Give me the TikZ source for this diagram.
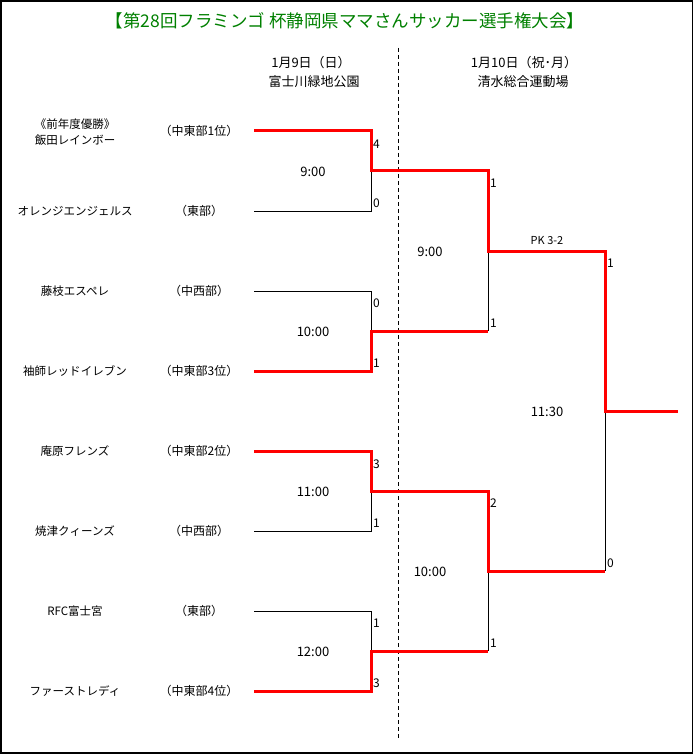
\documentclass[tikz,border=0pt]{standalone}
\usepackage{fontspec}
\setmainfont{Noto Sans CJK JP}
\definecolor{titlegreen}{RGB}{0,128,0}
\definecolor{winred}{RGB}{255,0,0}
\begin{document}
\begin{tikzpicture}[x=1pt,y=-1pt,
  team/.style={font=\fontsize{11.5}{16}\selectfont, align=center, inner sep=0},
  region/.style={font=\fontsize{12}{14}\selectfont, inner sep=0},
  hdr/.style={font=\fontsize{13}{15}\selectfont, inner sep=0},
  time/.style={font=\fontsize{13}{15}\selectfont, inner sep=0},
  score/.style={font=\fontsize{12}{14}\selectfont, inner sep=0, anchor=west},
  win/.style={draw=winred, line width=3pt, line join=miter},
  lose/.style={draw=black, line width=0.8pt},
  sep/.style={draw=black, line width=0.8pt, dash pattern=on 4pt off 3pt}]
\useasboundingbox (0,0) rectangle (694,754);
\draw[line width=1.5pt] (1,1) rectangle (692.5,753);

% title
\node[font=\fontsize{17.5}{20}\selectfont, text=titlegreen, inner sep=0] (title) at (345,21) {【第28回フラミンゴ 杯静岡県ママさんサッカー選手権大会】};

% headers
\node[hdr] (d1) at (311,63) {1月9日（日）};
\node[hdr] (v1) at (314,82) {富士川緑地公園};
\node[hdr] (d2) at (524,63) {1月10日（祝･月）};
\node[hdr] (v2) at (523,82) {清水総合運動場};

% separator
\coordinate (sepT) at (398,48);
\coordinate (sepB) at (398,740);
\draw[sep] (sepT) -- (sepB);

% teams
\node[team] (n1) at (75,132) {《前年度優勝》\\飯田レインボー};
\node[team] (n2) at (75,211) {オレンジエンジェルス};
\node[team] (n3) at (75,291) {藤枝エスペレ};
\node[team] (n4) at (75,371) {袖師レッドイレブン};
\node[team] (n5) at (75,451) {庵原フレンズ};
\node[team] (n6) at (75,531) {焼津クィーンズ};
\node[team] (n7) at (75,611) {RFC富士宮};
\node[team] (n8) at (75,691) {ファーストレディ};

\node[region] (r1) at (199,131) {（中東部1位）};
\node[region] (r2) at (199,211) {（東部）};
\node[region] (r3) at (199,291) {（中西部）};
\node[region] (r4) at (199,371) {（中東部3位）};
\node[region] (r5) at (199,451) {（中東部2位）};
\node[region] (r6) at (199,531) {（中西部）};
\node[region] (r7) at (199,611) {（東部）};
\node[region] (r8) at (199,691) {（中東部4位）};

% bracket coordinates
\foreach \i/\y in {1/131,2/211,3/291,4/371,5/451,6/531,7/611,8/691}{
  \coordinate (s\i) at (254,\y);
  \coordinate (e\i) at (371,\y);
}
\coordinate (j1) at (371,171);
\coordinate (j2) at (371,331);
\coordinate (j3) at (371,491);
\coordinate (j4) at (371,651);
\coordinate (k1) at (488,171);
\coordinate (k2) at (488,331);
\coordinate (k3) at (488,491);
\coordinate (k4) at (488,651);
\coordinate (m1) at (488,251);
\coordinate (m2) at (488,571);
\coordinate (f1) at (605,251);
\coordinate (f2) at (605,571);
\coordinate (fj) at (605,411);
\coordinate (champ) at (678,411);

% losing lines
\draw[lose] (s2) -- (e2) -- (j1);
\draw[lose] (s3) -- (e3) -- (j2);
\draw[lose] (s6) -- (e6) -- (j3);
\draw[lose] (s7) -- (e7) -- (j4);
\draw[lose] (m1) -- (k2);
\draw[lose] (m2) -- (k4);
\draw[lose] (fj) -- (f2);

% winning lines
\draw[win] (s1) -- (e1) -- (j1) -- (k1) -- (m1) -- (f1) -- (fj) -- (champ);
\draw[win] (s4) -- (e4) -- (j2) -- (k2);
\draw[win] (s5) -- (e5) -- (j3) -- (k3) -- (m2) -- (f2);
\draw[win] (s8) -- (e8) -- (j4) -- (k4);

% times
\node[time] (t1) at (313,172) {9:00};
\node[time] (t2) at (313,332) {10:00};
\node[time] (t3) at (313,492) {11:00};
\node[time] (t4) at (313,652) {12:00};
\node[time] (t5) at (430,252) {9:00};
\node[time] (t6) at (430,572) {10:00};
\node[time] (t7) at (547,412) {11:30};
\node[font=\fontsize{11}{13}\selectfont, inner sep=0] (pk) at (547,241) {PK 3-2};

% scores
\node[score] (sc1) at (373,144) {4};
\node[score] (sc2) at (373,203) {0};
\node[score] (sc3) at (373,303) {0};
\node[score] (sc4) at (373,363) {1};
\node[score] (sc5) at (373,464) {3};
\node[score] (sc6) at (373,523) {1};
\node[score] (sc7) at (373,623) {1};
\node[score] (sc8) at (373,683) {3};
\node[score] (sc9) at (490,183) {1};
\node[score] (sc10) at (490,323) {1};
\node[score] (sc11) at (490,503) {2};
\node[score] (sc12) at (490,643) {1};
\node[score] (sc13) at (607,263) {1};
\node[score] (sc14) at (607,563) {0};
\end{tikzpicture}
\end{document}
